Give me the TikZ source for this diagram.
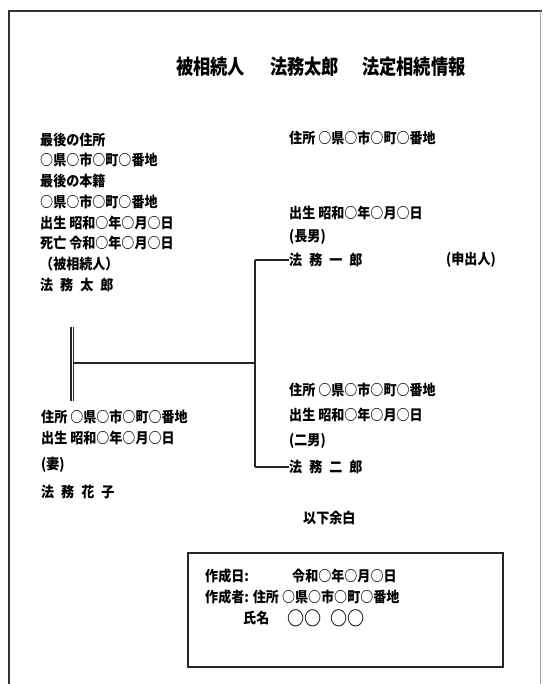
\documentclass[tikz,border=0pt]{standalone}
\usepackage{fontspec}
\setmainfont{Noto Sans CJK JP}[FakeStretch=0.9]
\newfontfamily\titlefont{Noto Sans CJK JP}[FakeStretch=0.84]
\begin{document}
\begin{tikzpicture}[x=1pt,y=-1pt,
  txt/.style={anchor=west,inner sep=0pt,font=\fontsize{14.5}{14.5}\selectfont\bfseries},
  ttl/.style={anchor=west,inner sep=0pt,font=\titlefont\fontsize{20.5}{21}\selectfont\bfseries},
  ln/.style={line width=1.3pt,draw=black!85},
  frame/.style={line width=1.1pt,draw=black!80}]
\useasboundingbox (0,0) rectangle (542,684);
% outer frame
\draw[frame] (9,684) -- (9,11) -- (542,11);
\draw[line width=0.6pt,draw=black!35] (540,11) -- (540,684);
% title
\node[ttl] (t1) at (176,67) {被相続人};
\node[ttl] (t2) at (270,67) {法務太郎};
\node[ttl] (t3) at (362,67) {法定相続情報};
% deceased
\node[txt] (a1) at (40,140) {最後の住所};
\node[txt] (a2) at (40,160) {○県○市○町○番地};
\node[txt] (a3) at (40,181) {最後の本籍};
\node[txt] (a4) at (40,202) {○県○市○町○番地};
\node[txt] (a5) at (40,223) {出生 昭和○年○月○日};
\node[txt] (a6) at (40,243) {死亡 令和○年○月○日};
\node[txt] (a7) at (40,264) {（被相続人）};
\node[txt] (taro) at (40,285) {法\hspace{7pt}務\hspace{7pt}太\hspace{7pt}郎};
% eldest son
\node[txt] (b1) at (289,138) {住所 ○県○市○町○番地};
\node[txt] (b2) at (289,213) {出生 昭和○年○月○日};
\node[txt] (b3) at (289,237) {(長男)};
\node[txt] (ichiro) at (289,260) {法\hspace{7pt}務\hspace{7pt}一\hspace{7pt}郎};
\node[txt] (b5) at (446,260) {(申出人)};
% second son
\node[txt] (c1) at (289,390) {住所 ○県○市○町○番地};
\node[txt] (c2) at (289,415) {出生 昭和○年○月○日};
\node[txt] (c3) at (289,441) {(二男)};
\node[txt] (jiro) at (289,467) {法\hspace{7pt}務\hspace{7pt}二\hspace{7pt}郎};
\node[txt] (d1) at (303,518) {以下余白};
% wife
\node[txt] (w1) at (41,417) {住所 ○県○市○町○番地};
\node[txt] (w2) at (41,438) {出生 昭和○年○月○日};
\node[txt] (w3) at (41,465) {(妻)};
\node[txt] (hanako) at (41,492) {法\hspace{7pt}務\hspace{7pt}花\hspace{7pt}子};
% connectors
\coordinate (m1) at (72,327);
\coordinate (m2) at (72,401);
\coordinate (mj) at (73,363);
\coordinate (vj) at (255,363);
\coordinate (vt) at (255,260);
\coordinate (vb) at (255,467);
\draw[double,double distance=0.8pt,line width=1.2pt,draw=black!85] (m1) -- (m2);
\draw[ln] (mj) -- (vj);
\draw[ln] (vt) -- (vb);
\draw[ln] (vt) -- (ichiro.west);
\draw[ln] (vb) -- (jiro.west);
% certificate box
\node[draw=black!85,line width=1.3pt,minimum width=315pt,minimum height=114pt,inner sep=0pt] (box) at (345.5,610) {};
\node[txt] (e1) at (205,576) {作成日:};
\node[txt] (e2) at (292,576) {令和○年○月○日};
\node[txt] (e3) at (205,597) {作成者: 住所 ○県○市○町○番地};
\node[txt] (e5) at (243,618) {氏名};
\node[anchor=west,inner sep=0pt,font=\fontsize{19}{19}\selectfont\bfseries] (e6) at (287,618) {○○\hspace{9pt}○○};
\end{tikzpicture}
\end{document}
